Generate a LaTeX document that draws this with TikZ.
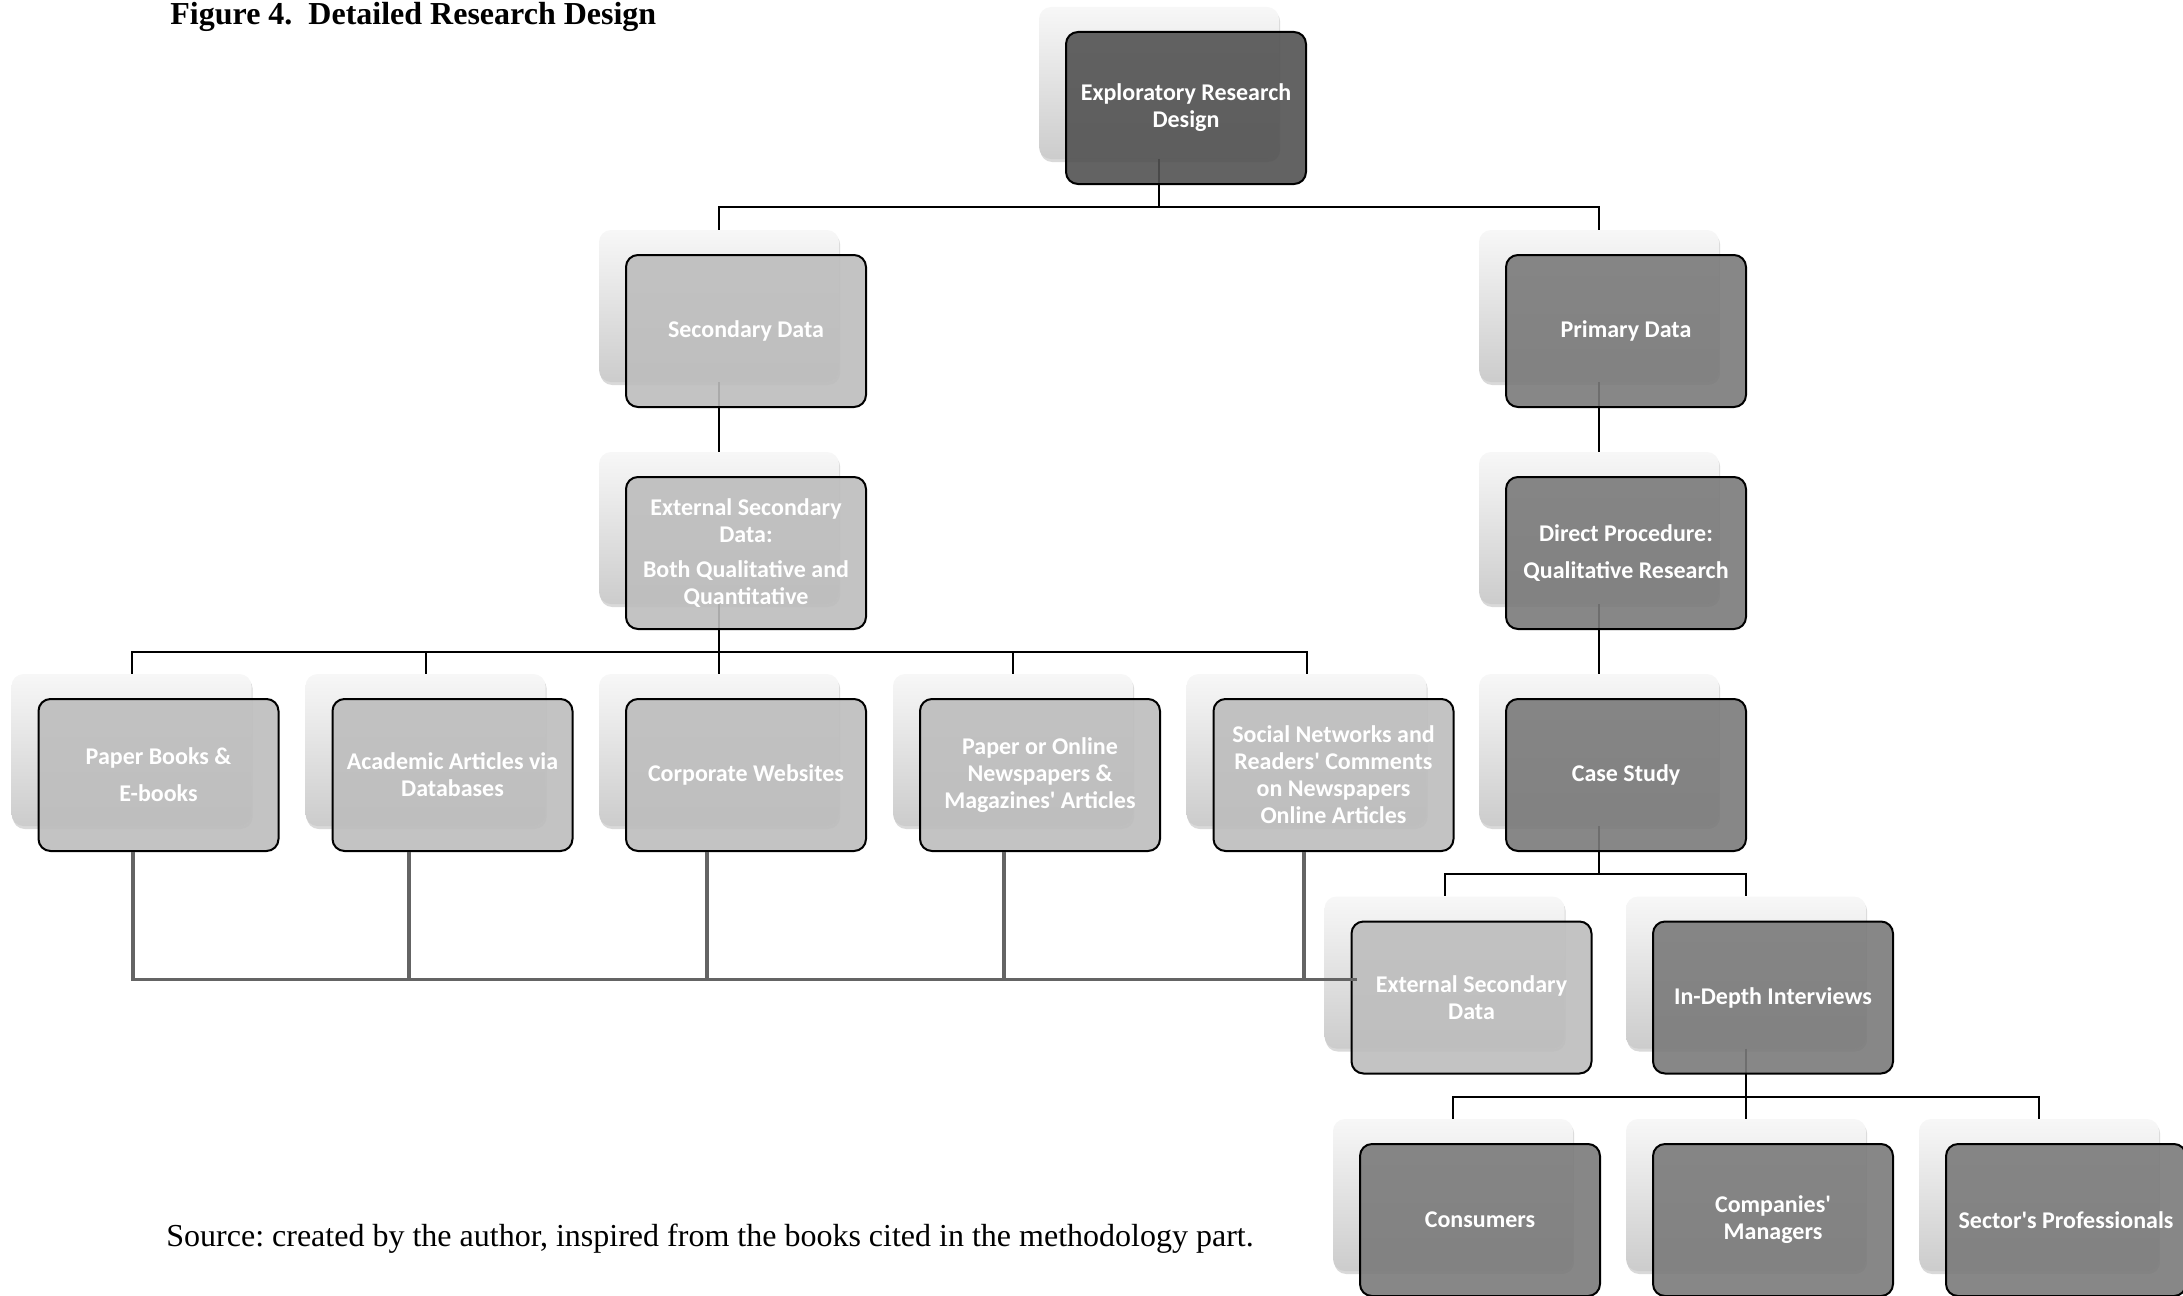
\documentclass[tikz,border=0pt]{standalone}
\usepackage{fontspec}
\setmainfont{Liberation Serif}
\newfontfamily\boxfont{Carlito}
\usepackage{tikz}
\usetikzlibrary{backgrounds,shadows}
\frenchspacing

\definecolor{boxdark}{HTML}{525252}
\definecolor{boxmid}{HTML}{7A7A7A}
\definecolor{boxlight}{HTML}{BDBDBD}
\definecolor{handgrey}{HTML}{646464}

\begin{document}
\begin{tikzpicture}[x=0.5pt, y=-0.5pt,
		box/.style={draw=black, line width=1pt, rounded corners=6pt, minimum width=120pt, minimum height=76pt, inner sep=2pt, align=center, text=white, fill opacity=0.9, text opacity=1, font=\boxfont\bfseries\fontsize{12}{13.5}\selectfont},
		darknode/.style={box, fill=boxdark},
		midnode/.style={box, fill=boxmid},
		lightnode/.style={box, fill=boxlight},
		backbox/.style={rounded corners=6pt, minimum width=120pt, minimum height=76pt, top color=white!97!black, bottom color=white!80!black, drop shadow={shadow xshift=0.6pt, shadow yshift=-1.5pt, opacity=0.3}},
		link/.style={line width=1pt},
		handline/.style={line width=1.75pt, draw=handgrey}]
			\useasboundingbox (0,0) rectangle (2183,1295);
			\node[anchor=base west, inner sep=0pt, font=\bfseries\fontsize{16}{19}\selectfont] (title) at (170,25) {Figure 4.~~Detailed Research Design};
			\node[anchor=base west, inner sep=0pt, font=\fontsize{16}{19}\selectfont] (source) at (166,1246) {Source: created by the author, inspired from the books cited in the methodology part.};
			% front boxes
			\node[darknode] (expl) at (1186,108) {Exploratory Research\\Design};
			\node[lightnode] (sec) at (746,331) {Secondary Data};
			\node[midnode] (prim) at (1626,331) {Primary Data};
			\node[lightnode] (esd) at (746,553) {External Secondary\\Data:\\[4pt]Both Qualitative and\\Quantitative};
			\node[midnode] (direct) at (1626,553) {Direct Procedure:\\[5pt]Qualitative Research};
			\node[lightnode] (books) at (158.5,775) {Paper Books \&\\[5pt]E-books};
			\node[lightnode] (articles) at (452.5,775) {Academic Articles via\\Databases};
			\node[lightnode] (websites) at (746,775) {Corporate Websites};
			\node[lightnode] (press) at (1040,775) {Paper or Online\\Newspapers \&\\Magazines\textquotesingle{} Articles};
			\node[lightnode] (social) at (1333.5,775) {Social Networks and\\Readers\textquotesingle{} Comments\\on Newspapers\\Online Articles};
			\node[midnode] (case) at (1626,775) {Case Study};
			\node[lightnode] (extdata) at (1471.5,997.5) {External Secondary\\Data};
			\node[midnode] (interviews) at (1773,997.5) {In-Depth Interviews};
			\node[midnode] (consumers) at (1480,1220) {Consumers};
			\node[midnode] (managers) at (1773,1220) {Companies\textquotesingle\\Managers};
			\node[midnode] (experts) at (2066,1220) {Sector\textquotesingle s Professionals};
			\begin{scope}[on background layer]
				% boxes behind
				\foreach \n in {expl,sec,prim,esd,direct,books,articles,websites,press,social,case,extdata,interviews,consumers,managers,experts}
					\node[backbox] (\n-bg) at ([shift={(-13.5pt,12.5pt)}]\n.center) {};
				% tree links
				\draw[link] (expl-bg.south) -- ++(0pt,-24pt) -| (sec-bg.north);
				\draw[link] (expl-bg.south) -- ++(0pt,-24pt) -| (prim-bg.north);
				\draw[link] (sec-bg.south) -- (esd-bg.north);
				\draw[link] (prim-bg.south) -- (direct-bg.north);
				\foreach \m in {books,articles,websites,press,social}
					\draw[link] (esd-bg.south) -- ++(0pt,-24pt) -| (\m-bg.north);
				\draw[link] (direct-bg.south) -- (case-bg.north);
				\foreach \m in {extdata,interviews}
					\draw[link] (case-bg.south) -- ++(0pt,-24pt) -| (\m-bg.north);
				\foreach \m in {consumers,managers,experts}
					\draw[link] (interviews-bg.south) -- ++(0pt,-24pt) -| (\m-bg.north);
			\end{scope}
			% grey lines into the external secondary data box
			\coordinate (joint) at ([shift={(3pt,9pt)}]extdata.west);
			\draw[handline] ([xshift=-12.75pt]books.south) |- (joint);
			\draw[handline] ([xshift=-21.75pt]articles.south) |- (joint);
			\draw[handline] ([xshift=-19.5pt]websites.south) |- (joint);
			\draw[handline] ([xshift=-18pt]press.south) |- (joint);
			\draw[handline] ([xshift=-14.75pt]social.south) |- (joint);
		\end{tikzpicture}
\end{document}
